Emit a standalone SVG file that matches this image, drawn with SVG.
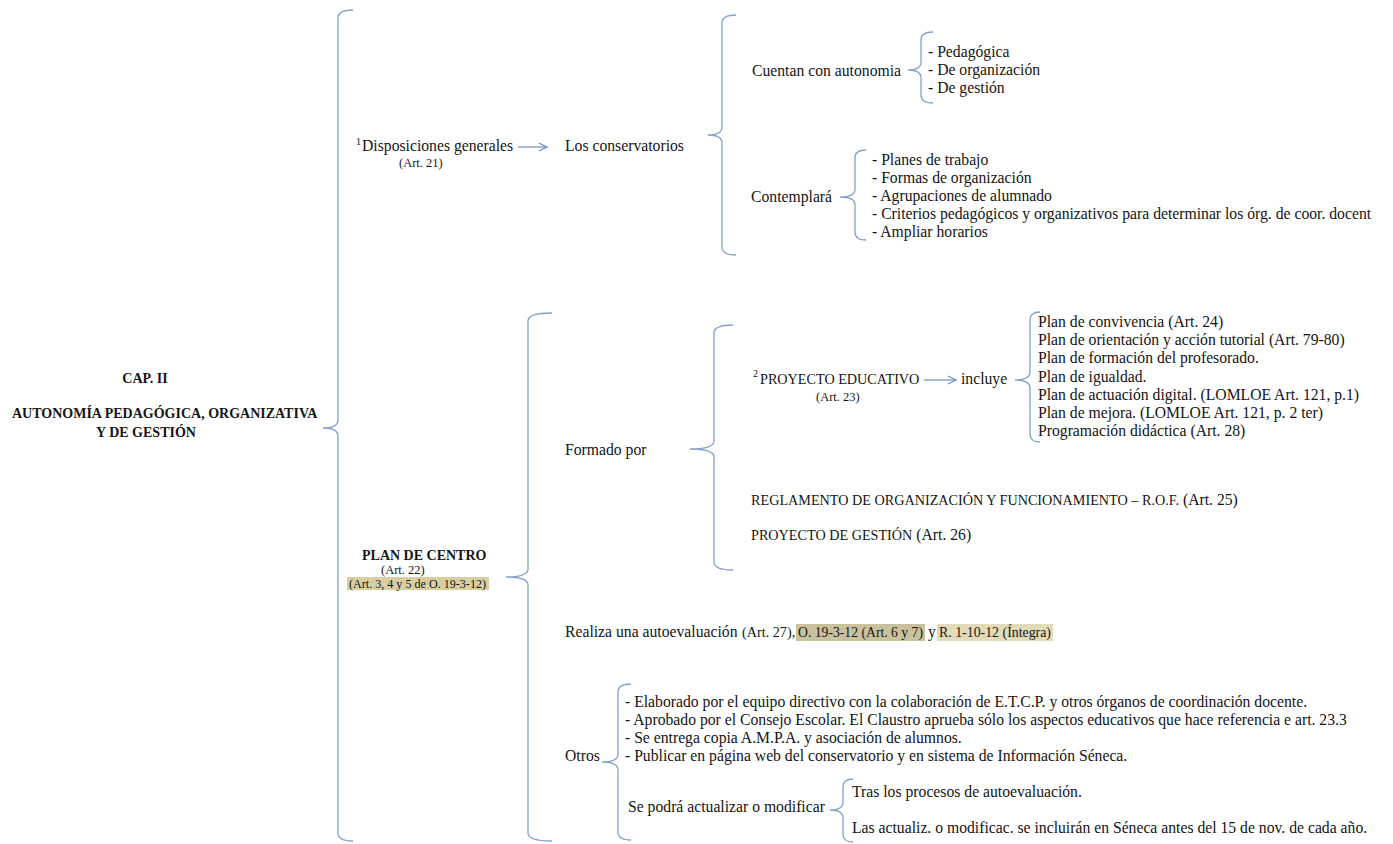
<svg xmlns="http://www.w3.org/2000/svg" width="1393" height="844" viewBox="0 0 1393 844">
<defs>
<marker id="arr" viewBox="0 0 10 10" refX="9" refY="5" markerWidth="10" markerHeight="10" markerUnits="userSpaceOnUse" orient="auto">
<path d="M1,1 L9,5 L1,9" fill="none" stroke="#6f8fc2" stroke-width="1.2"/>
</marker>
<style>
.t{font-family:"Liberation Serif","Times New Roman",serif;font-size:15.7px;fill:#151515}
.b{font-weight:bold;font-size:14px}
.s{font-size:12.5px}
.c{font-size:14.2px}
.sup{font-size:10px}
.br{fill:none;stroke:#86a1ca;stroke-width:1.3}
.ar{fill:none;stroke:#6f8fc2;stroke-width:1.2}
.hl1{fill:#d7cfa2}
.hl2{fill:#c9c19c}
.hl3{fill:#e2dbb8}
</style>
</defs>
<rect width="1393" height="844" fill="#ffffff"/>

<g id="connectors">
<path class="br" d="M353,10 Q338,10 338,18 L338,420 Q338,428 323,428 Q338,428 338,436 L338,833 Q338,841 353,841"/>
<path class="br" d="M736,15 Q722,15 722,23 L722,127 Q722,135 708,135 Q722,135 722,143 L722,247 Q722,255 736,255"/>
<path class="br" d="M933,32 Q921,32 921,40 L921,62 Q921,70 908,70 Q921,70 921,78 L921,95 Q921,103 933,103"/>
<path class="br" d="M866,150 Q855,150 855,158 L855,189 Q855,197 840,197 Q855,197 855,205 L855,232 Q855,240 866,240"/>
<path class="br" d="M552,313 Q528,313 528,321 L528,569 Q528,577 506,577 Q528,577 528,585 L528,833 Q528,841 552,841"/>
<path class="br" d="M733,325 Q714,325 714,333 L714,441 Q714,449 690,449 Q714,449 714,457 L714,562 Q714,570 733,570"/>
<path class="br" d="M1040,312 Q1030,312 1030,320 L1030,372 Q1030,380 1015,380 Q1030,380 1030,388 L1030,434 Q1030,442 1040,442"/>
<path class="br" d="M631,684 Q618,684 618,692 L618,754 Q618,762 602,762 Q618,762 618,770 L618,832 Q618,840 631,840"/>
<path class="br" d="M853,779 Q843,779 843,787 L843,802 Q843,810 830,810 Q843,810 843,818 L843,834 Q843,842 853,842"/>
<line class="ar" x1="518" y1="147" x2="547" y2="147" marker-end="url(#arr)"/>
<line class="ar" x1="924" y1="380" x2="956" y2="380" marker-end="url(#arr)"/>
</g>

<g id="cap2">
<text class="t b" x="145" y="383" text-anchor="middle">CAP. II</text>
<text class="t b" x="12" y="418">AUTONOMÍA PEDAGÓGICA, ORGANIZATIVA</text>
<text class="t b" x="146" y="437" text-anchor="middle">Y DE GESTIÓN</text>
</g>

<g id="disposiciones">
<text class="t sup" x="356" y="145">1</text>
<text class="t" x="362" y="151">Disposiciones generales</text>
<text class="t s" x="399" y="167">(Art. 21)</text>
</g>

<g id="conservatorios">
<text class="t" x="565" y="151">Los conservatorios</text>
</g>

<g id="autonomia">
<text class="t" x="752" y="76">Cuentan con autonomia</text>
<text class="t" x="928" y="57">- Pedagógica</text>
<text class="t" x="928" y="75">- De organización</text>
<text class="t" x="928" y="93">- De gestión</text>
</g>

<g id="contemplara">
<text class="t" x="751" y="202">Contemplará</text>
<text class="t" x="872" y="165">- Planes de trabajo</text>
<text class="t" x="872" y="183">- Formas de organización</text>
<text class="t" x="872" y="201">- Agrupaciones de alumnado</text>
<text class="t" x="872" y="219">- Criterios pedagógicos y organizativos para determinar los órg. de coor. docent</text>
<text class="t" x="872" y="237">- Ampliar horarios</text>
</g>

<g id="plan-centro">
<text class="t b" x="362" y="560">PLAN DE CENTRO</text>
<text class="t s" x="381" y="574">(Art. 22)</text>
<rect class="hl1" x="347" y="577" width="142" height="13"/>
<text class="t s" x="349" y="588" textLength="137" lengthAdjust="spacingAndGlyphs">(Art. 3, 4 y 5 de O. 19-3-12)</text>
</g>

<g id="formado">
<text class="t" x="565" y="455">Formado por</text>
</g>

<g id="proyecto-educativo">
<text class="t sup" x="753" y="377">2</text>
<text class="t c" x="760" y="384">PROYECTO EDUCATIVO</text>
<text class="t s" x="816" y="401">(Art. 23)</text>
</g>

<g id="incluye">
<text class="t" x="961" y="384">incluye</text>
</g>

<g id="planes">
<text class="t" x="1038" y="327">Plan de convivencia (Art. 24)</text>
<text class="t" x="1038" y="345">Plan de orientación y acción tutorial (Art. 79-80)</text>
<text class="t" x="1038" y="363">Plan de formación del profesorado.</text>
<text class="t" x="1038" y="382">Plan de igualdad.</text>
<text class="t" x="1038" y="400">Plan de actuación digital. (LOMLOE Art. 121, p.1)</text>
<text class="t" x="1038" y="418">Plan de mejora. (LOMLOE Art. 121, p. 2 ter)</text>
<text class="t" x="1038" y="436">Programación didáctica (Art. 28)</text>
</g>

<g id="rof">
<text class="t" x="751" y="505"><tspan class="c">REGLAMENTO DE ORGANIZACIÓN Y FUNCIONAMIENTO – R.O.F.</tspan> (Art. 25)</text>
</g>

<g id="gestion">
<text class="t" x="751" y="540"><tspan class="c">PROYECTO DE GESTIÓN</tspan> (Art. 26)</text>
</g>

<g id="autoevaluacion">
<rect class="hl2" x="796" y="624" width="129" height="17"/>
<rect class="hl3" x="937" y="624" width="116" height="17"/>
<text class="t" x="565" y="637">Realiza una autoevaluación</text>
<text class="t c" x="742" y="637">(Art. 27),</text>
<text class="t c" x="798" y="637" textLength="125" lengthAdjust="spacingAndGlyphs">O. 19-3-12 (Art. 6 y 7)</text>
<text class="t" x="928" y="637">y</text>
<text class="t c" x="939" y="637" textLength="112" lengthAdjust="spacingAndGlyphs">R. 1-10-12 (Íntegra)</text>
</g>

<g id="otros">
<text class="t" x="565" y="761">Otros</text>
<text class="t" x="625" y="707">- Elaborado por el equipo directivo con la colaboración de E.T.C.P. y otros órganos de coordinación docente.</text>
<text class="t" x="625" y="725">- Aprobado por el Consejo Escolar. El Claustro aprueba sólo los aspectos educativos que hace referencia e art. 23.3</text>
<text class="t" x="625" y="743">- Se entrega copia A.M.P.A. y asociación de alumnos.</text>
<text class="t" x="625" y="761">- Publicar en página web del conservatorio y en sistema de Información Séneca.</text>
</g>

<g id="actualizar">
<text class="t" x="628" y="812">Se podrá actualizar o modificar</text>
<text class="t" x="852" y="797">Tras los procesos de autoevaluación.</text>
<text class="t" x="852" y="833">Las actualiz. o modificac. se incluirán en Séneca antes del 15 de nov. de cada año.</text>
</g>
</svg>
